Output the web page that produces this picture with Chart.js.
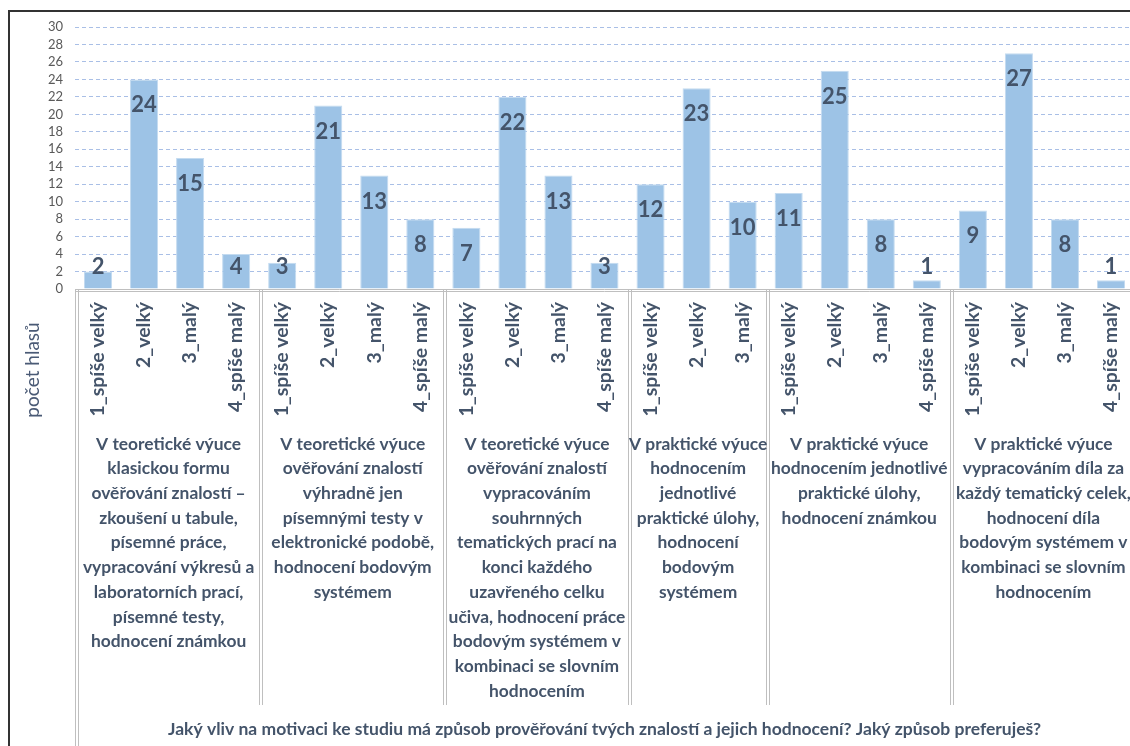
<!DOCTYPE html>
<html><head><meta charset="utf-8">
<script src="https://cdn.jsdelivr.net/npm/chart.js@4.4.0/dist/chart.umd.min.js"></script>
<style>
html,body{margin:0;padding:0;background:#fff;overflow:hidden;width:1130px;height:746px}
#wrap{position:absolute;left:0;top:0;width:1134px;height:746px}
</style></head>
<body><div id="wrap"><canvas id="c" width="1134" height="746"></canvas></div>
<script>
// ---- data ----
const groupTitles = [
  ["V teoretické výuce","klasickou formu","ověřování znalostí –","zkoušení u tabule,","písemné práce,","vypracování výkresů a","laboratorních prací,","písemné testy,","hodnocení známkou"],
  ["V teoretické výuce","ověřování znalostí","výhradně jen","písemnými testy v","elektronické podobě,","hodnocení bodovým","systémem"],
  ["V teoretické výuce","ověřování znalostí","vypracováním","souhrnných","tematických prací na","konci každého","uzavřeného celku","učiva, hodnocení práce","bodovým systémem v","kombinaci se slovním","hodnocením"],
  ["V praktické výuce","hodnocením","jednotlivé","praktické úlohy,","hodnocení","bodovým","systémem"],
  ["V praktické výuce","hodnocením jednotlivé","praktické úlohy,","hodnocení známkou"],
  ["V praktické výuce","vypracováním díla za","každý tematický celek,","hodnocení díla","bodovým systémem v","kombinaci se slovním","hodnocením"]
];
const groupCategories = [
  ["1_spíše velký","2_velký","3_malý","4_spíše malý"],
  ["1_spíše velký","2_velký","3_malý","4_spíše malý"],
  ["1_spíše velký","2_velký","3_malý","4_spíše malý"],
  ["1_spíše velký","2_velký","3_malý"],
  ["1_spíše velký","2_velký","3_malý","4_spíše malý"],
  ["1_spíše velký","2_velký","3_malý","4_spíše malý"]
];
const groupValues = [
  [2,24,15,4],
  [3,21,13,8],
  [7,22,13,3],
  [12,23,10],
  [11,25,8,1],
  [9,27,8,1]
];
const yMin = 0, yMax = 30, yStep = 2;
const yAxisTitle = "počet hlasů";
const xAxisTitle = "Jaký vliv na motivaci ke studiu má způsob prověřování tvých znalostí a jejich hodnocení? Jaký způsob preferuješ?";

const labels = groupCategories.flat();
const values = groupValues.flat();

const TEXT = '#44546A';
const FONT = 'Lato';

const overlay = {
  id: 'overlay',
  afterDatasetsDraw(chart) {
    const ctx = chart.ctx, meta = chart.getDatasetMeta(0), ys = chart.scales.y;
    const base = ys.getPixelForValue(0);
    ctx.save();
    ctx.font = 'bold 22px ' + FONT;
    ctx.fillStyle = TEXT;
    ctx.textAlign = 'center';
    ctx.textBaseline = 'middle';
    meta.data.forEach((bar, i) => {
      const cy = Math.min(bar.y + 25, base - 23.5);
      ctx.fillText(String(values[i]), bar.x, cy + 1);
    });
    ctx.restore();
  },
  afterDraw(chart) {
    const ctx = chart.ctx, xs = chart.scales.x, ys = chart.scales.y, ca = chart.chartArea;
    const base = ys.getPixelForValue(0);
    ctx.save();
    // outer frame
    ctx.strokeStyle = '#333';
    ctx.lineWidth = 2;
    ctx.beginPath();
    ctx.moveTo(9, 746); ctx.lineTo(9, 11); ctx.lineTo(chart.width, 11);
    ctx.stroke();
    // axis double line
    ctx.strokeStyle = '#BFBFBF';
    ctx.lineWidth = 1;
    ctx.beginPath();
    ctx.moveTo(ca.left, base + 0.5); ctx.lineTo(ca.right, base + 0.5);
    ctx.moveTo(ca.left, base + 2.5); ctx.lineTo(ca.right, base + 2.5);
    ctx.stroke();
    // group separators & titles
    let start = 0;
    const bounds = [ca.left];
    groupValues.forEach((g) => {
      start += g.length;
      if (start < values.length) bounds.push((xs.getPixelForValue(start - 1) + xs.getPixelForValue(start)) / 2);
    });
    bounds.push(ca.right);
    ctx.beginPath();
    bounds.forEach((bx, i) => {
      const bottom = i === 0 ? 746 : 705;
      const x0 = Math.round(bx) + 0.5;
      ctx.moveTo(x0, base); ctx.lineTo(x0, bottom);
      ctx.moveTo(x0 + 3, base); ctx.lineTo(x0 + 3, bottom);
    });
    ctx.stroke();
    ctx.fillStyle = TEXT;
    ctx.font = 'bold 17.4px ' + FONT;
    ctx.textAlign = 'center';
    ctx.textBaseline = 'middle';
    groupTitles.forEach((lines, gi) => {
      const cx = (bounds[gi] + bounds[gi + 1]) / 2 + 1.5;
      lines.forEach((ln, li) => ctx.fillText(ln, cx, 444 + li * 24.7));
    });
    // bottom title
    ctx.font = 'bold 17.5px ' + FONT;
    ctx.fillText(xAxisTitle, (ca.left + ca.right) / 2, 729);
    // y title
    ctx.font = '19px ' + FONT;
    ctx.fillStyle = '#4A5A75';
    ctx.translate(33, 370);
    ctx.rotate(-Math.PI / 2);
    ctx.fillText(yAxisTitle, 0, 0);
    ctx.restore();
  }
};

function draw() {
  new Chart(document.getElementById('c'), {
    type: 'bar',
    data: {
      labels: labels,
      datasets: [{
        data: values,
        backgroundColor: '#9DC3E6',
        borderColor: '#C4DBF0',
        borderWidth: 1,
        barPercentage: 0.61,
        categoryPercentage: 1
      }]
    },
    options: {
      responsive: false,
      devicePixelRatio: 1,
      animation: false,
      layout: { padding: { left: 0, right: 0, top: 27, bottom: 0 } },
      plugins: { legend: { display: false }, tooltip: { enabled: false } },
      scales: {
        x: {
          grid: { display: false, drawTicks: false },
          border: { display: false },
          ticks: {
            autoSkip: false, minRotation: 90, maxRotation: 90, padding: 13,
            color: TEXT, font: { family: FONT, size: 19.4, weight: 'bold' }
          },
          afterFit(s) { s.height = 746 - 289; s.paddingLeft = 0; s.paddingRight = 0; }
        },
        y: {
          min: yMin, max: yMax,
          grid: { color: '#A9BFE6', lineWidth: 1, drawTicks: false },
          border: { display: false, dash: [4, 3] },
          ticks: { stepSize: yStep, autoSkip: false, padding: 12, color: '#595959', font: { family: FONT, size: 13 } },
          afterFit(s) { s.width = 75; }
        }
      }
    },
    plugins: [overlay]
  });
}
if (document.fonts && document.fonts.load) {
  Promise.all([document.fonts.load('bold 18px Lato'), document.fonts.load('18px Lato')]).then(draw, draw);
} else draw();
</script>
</body></html>
